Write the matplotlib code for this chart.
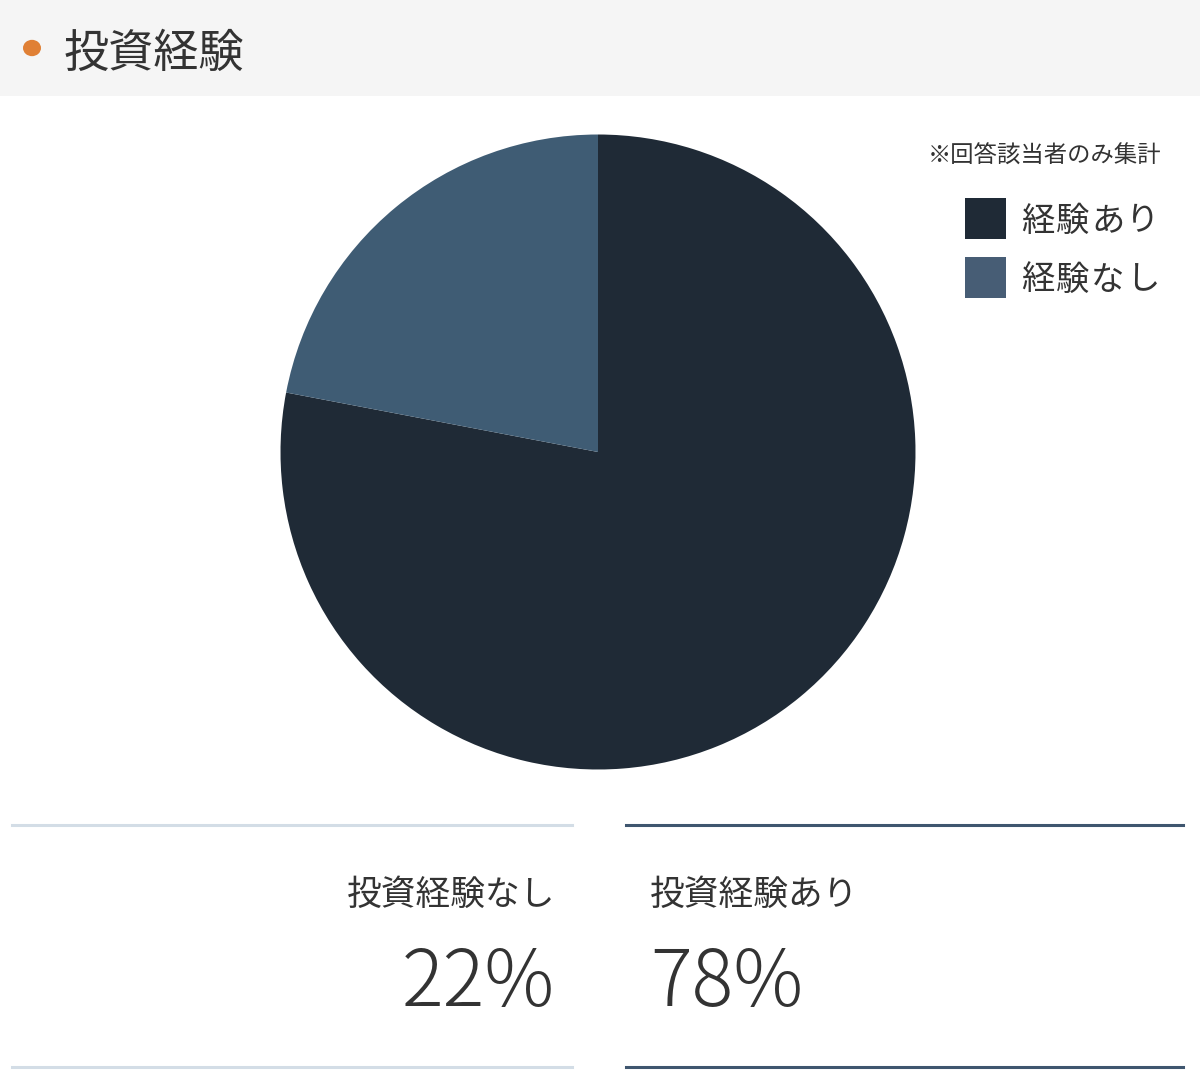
import matplotlib.pyplot as plt
from matplotlib.patches import Rectangle, Circle
from matplotlib.lines import Line2D

plt.rcParams['font.family'] = ['Noto Sans CJK JP', 'DejaVu Sans']

title = "投資経験"
note = "※回答該当者のみ集計"
labels = ["経験あり", "経験なし"]
values = [78, 22]
colors = ["#1f2a36", "#3f5c74"]
legend_colors = ["#1f2a36", "#475d75"]
stat_labels = ["投資経験なし", "投資経験あり"]
stat_values = [22, 78]
stat_line_colors = ["#d3dde6", "#3f566f"]

W, H = 1200, 1090
fig = plt.figure(figsize=(W / 100, H / 100), dpi=100)
fig.patch.set_facecolor("white")


def fx(px):
    return px / W


def fy(py):
    return 1 - py / H


# header band
fig.patches.append(Rectangle((0, fy(96)), 1, 96 / H, transform=fig.transFigure,
                             facecolor="#f5f5f5", edgecolor="none", zorder=0))
fig.patches.append(Circle((fx(32), fy(48)), 9 / W, transform=fig.transFigure,
                          facecolor="#e08035", edgecolor="none"))
fig.text(fx(64), fy(54), title, fontsize=32.5, color="#333333", va="center", ha="left")

# pie
cx, cy, r = 598, 452, 317.5
ax = fig.add_axes([fx(cx - r), fy(cy + r), 2 * r / W, 2 * r / H])
ax.pie(values, colors=colors, startangle=90, counterclock=False,
       wedgeprops=dict(linewidth=0))
ax.set_xlim(-1, 1)
ax.set_ylim(-1, 1)
ax.set_aspect("auto")
ax.axis("off")

# legend
fig.text(fx(1161), fy(156), note, fontsize=16.8, color="#333333", ha="right", va="center")
for i, (lab, col) in enumerate(zip(labels, legend_colors)):
    top = 198 + i * 59
    fig.patches.append(Rectangle((fx(965), fy(top + 41)), 41 / W, 41 / H,
                                 transform=fig.transFigure, facecolor=col, edgecolor="none"))
    # characters are spaced out a little in the original
    for j, ch in enumerate(lab):
        fig.text(fx(1021 + j * 35), fy(top + 23), ch, fontsize=24, color="#333333",
                 ha="left", va="center")

# bottom stats
spans = [(12, 572), (626, 1183)]
for i, ((x0, x1), col) in enumerate(zip(spans, stat_line_colors)):
    for yy in (825, 1067):
        fig.add_artist(Line2D([fx(x0), fx(x1)], [fy(yy), fy(yy)], transform=fig.transFigure,
                              color=col, linewidth=2.2))
    if i == 0:
        tx, ha = 555, "right"
    else:
        tx, ha = 650, "left"
    fig.text(fx(tx), fy(895), stat_labels[i], fontsize=25, color="#333333",
             ha=ha, va="center")
    fig.text(fx(tx), fy(984), f"{stat_values[i]}%", fontsize=56, color="#333333",
             ha=ha, va="center", fontweight="light")

fig.savefig("out.png", dpi=100)
